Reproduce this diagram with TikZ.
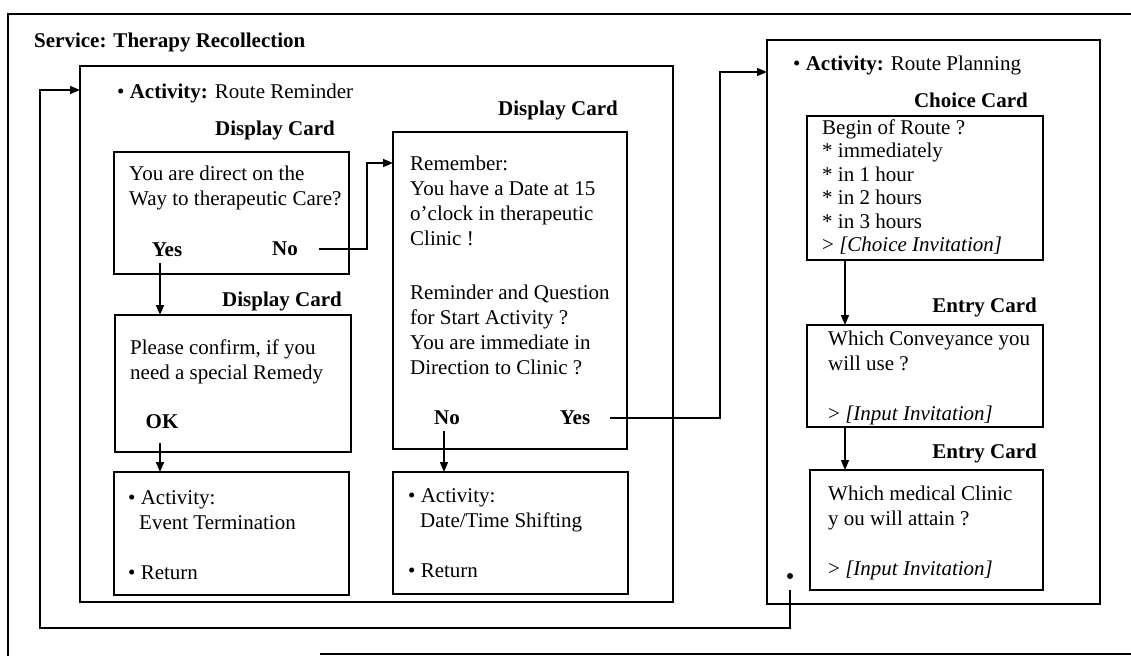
\documentclass[tikz,border=0pt]{standalone}
\usepackage{fontspec}
\setmainfont{Liberation Serif}
\usetikzlibrary{arrows.meta}
\begin{document}
\begin{tikzpicture}[x=1pt,y=-1pt,
  box/.style={draw, line width=2pt, rectangle, anchor=north west, inner sep=0pt, outer sep=0pt},
  card/.style={box, line width=1.8pt},
  txt/.style={anchor=north west, inner sep=0pt, align=left, font=\fontsize{21}{25}\selectfont},
  txtb/.style={txt, font=\fontsize{21}{25}\selectfont\bfseries},
  lbl/.style={anchor=east, inner sep=0pt, font=\fontsize{21}{25}\selectfont\bfseries},
  ans/.style={anchor=center, inner sep=0pt, font=\fontsize{21}{25}\selectfont\bfseries},
  arr/.style={line width=1.5pt, -{Triangle[length=10pt,width=8pt]}},
  frame/.style={line width=1.6pt}]
\useasboundingbox (0,0) rectangle (1131,656);

% service frame (partly outside the picture)
\draw[frame] (1131,14) -- (8,14) -- (8,656);
\draw[frame] (320,654) -- (1131,654);
\node[txtb] (title) at (34,29.5) {\strut Service: Therapy Recollection};

% activity boxes
\node[box, minimum width=593pt, minimum height=536pt] (act1) at (80,66) {};
\node[box, minimum width=333pt, minimum height=564pt] (act2) at (767,40) {};
\node[txt] (h1) at (117,80.5) {\strut • \textbf{Activity:} Route Reminder};
\node[txt] (h2) at (793,52.5) {\strut • \textbf{Activity:} Route Planning};

% cards
\node[card, minimum width=235pt, minimum height=122pt] (c1) at (114,152) {};
\node[card, minimum width=236pt, minimum height=137pt] (c2) at (115,315) {};
\node[card, minimum width=235pt, minimum height=123pt] (c3) at (114,472) {};
\node[card, minimum width=234pt, minimum height=317pt] (c4) at (393,132) {};
\node[card, minimum width=235pt, minimum height=122pt] (c5) at (393,472) {};
\node[card, minimum width=236pt, minimum height=144pt] (c6) at (807,116) {};
\node[card, minimum width=236pt, minimum height=102pt] (c7) at (807,325) {};
\node[card, minimum width=233pt, minimum height=120pt] (c8) at (810,470) {};

% card labels
\node[lbl] (l1) at (335,130) {Display Card};
\node[lbl] (l2) at (342,301) {Display Card};
\node[lbl] (l4) at (618,110) {Display Card};
\node[lbl] (l6) at (1028,100) {Choice Card};
\node[lbl] (l7) at (1037,307) {Entry Card};
\node[lbl] (l8) at (1037,453) {Entry Card};

% card texts
\node[txt] (t1) at (129,162.5) {\strut You are direct on the\\Way to therapeutic Care?};
\node[ans] (yes1) at (167,250) {Yes};
\node[ans] (no1) at (285,249) {No};
\node[txt] (t2) at (130,336.5) {\strut Please confirm, if you\\need a special Remedy};
\node[ans] (ok) at (162,422) {OK};
\node[txt] (t3) at (128,486.5) {\strut • Activity:\\\hspace*{11pt}Event Termination\\[25pt]• Return};
\node[txt] (t4a) at (410,152.5) {\strut Remember:\\You have a Date at 15\\o’clock in therapeutic\\Clinic !};
\node[txt] (t4b) at (410,281.5) {\strut Reminder and Question\\for Start Activity ?\\You are immediate in\\Direction to Clinic ?};
\node[ans] (no4) at (447,418) {No};
\node[ans] (yes4) at (575,418) {Yes};
\node[txt] (t5) at (408,484.5) {\strut • Activity:\\\hspace*{12pt}Date/Time Shifting\\[25pt]• Return};
\node[txt, font=\fontsize{21}{23.5}\selectfont] (t6) at (822,117.5) {\strut Begin of Route ?\\* immediately\\* in 1 hour\\* in 2 hours\\* in 3 hours\\> \textit{[Choice Invitation]}};
\node[txt] (t7) at (828,327.5) {\strut Which Conveyance you\\will use ?\\[25pt]> \textit{[Input Invitation]}};
\node[txt] (t8) at (828,482.5) {\strut Which medical Clinic\\y ou will attain ?\\[25pt]> \textit{[Input Invitation]}};

\node[circle, fill, inner sep=0pt, minimum size=6pt] (dot) at (790,576) {};

% connectors
\coordinate (k1) at (367,163);
\coordinate (k2) at (720,72);
\coordinate (k3) at (40,628);
\coordinate (k4) at (40,90);
\draw[arr] ([xshift=-7pt,yshift=-6pt]yes1.south) -- ([xshift=-7pt]yes1.south |- c2.north);
\draw[arr] ([xshift=-2pt,yshift=-14pt]ok.south) -- ([xshift=-2pt]ok.south |- c3.north);
\draw[arr] ([xshift=-3pt,yshift=-6pt]no4.south) -- ([xshift=-3pt]no4.south |- c5.north);
\draw[arr] ([xshift=21pt]no1.east) -| (k1) -- (k1 -| c4.west);
\draw[arr] ([xshift=20pt]yes4.east) -| (k2) -- (k2 -| act2.west);
\draw[arr] ([xshift=38pt]c6.south west) -- ([xshift=38pt]c7.north west);
\draw[arr] ([xshift=38pt]c7.south west) -- ([xshift=38pt]c7.south west |- c8.north);
\draw[arr] ([yshift=-14pt]dot.center) |- (k3) -- (k4) -- (k4 -| act1.west);
\end{tikzpicture}
\end{document}
